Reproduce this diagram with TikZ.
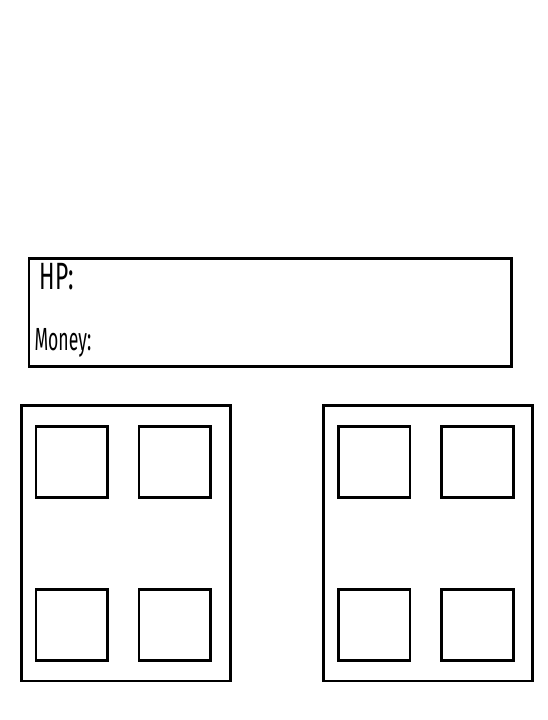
\documentclass[tikz,border=0pt]{standalone}
\usepackage{fontspec}
\setmainfont{Fira Sans}
\begin{document}
\begin{tikzpicture}[x=1pt,y=-1pt,
  frame/.style={draw=black,line width=2.8pt,inner sep=0pt,outer sep=0pt},
  panel/.style={frame,minimum width=209pt,minimum height=275.3pt},
  slot/.style={frame,minimum width=71.7pt,minimum height=70.6pt},
  lbl/.style={anchor=base west,inner sep=0pt,outer sep=0pt}]
\useasboundingbox (0,0) rectangle (548,720);
\fill[white] (0,0) rectangle (548,720);
% status bar
\node[frame,minimum width=482.5pt,minimum height=108pt] (bar) at (270.25,312.5) {};
\node[lbl,font=\fontsize{38}{38}\selectfont] (hp) at (39.5,289) {\scalebox{0.6}[1]{HP:}};
\node[lbl,font=\fontsize{32}{32}\selectfont] (money) at (34.5,350) {\scalebox{0.55}[1]{Money:}};
% left panel
\node[panel] (lp) at (126.35,543.35) {};
\node[slot] (l1) at (71.85,462) {};
\node[slot] (l2) at (174.85,462) {};
\node[slot] (l3) at (71.85,624.85) {};
\node[slot] (l4) at (174.85,624.85) {};
% right panel
\node[panel] (rp) at (427.8,543.35) {};
\node[slot] (r1) at (374.15,462) {};
\node[slot] (r2) at (477.5,462) {};
\node[slot] (r3) at (374.15,624.85) {};
\node[slot] (r4) at (477.5,624.85) {};
\end{tikzpicture}
\end{document}
